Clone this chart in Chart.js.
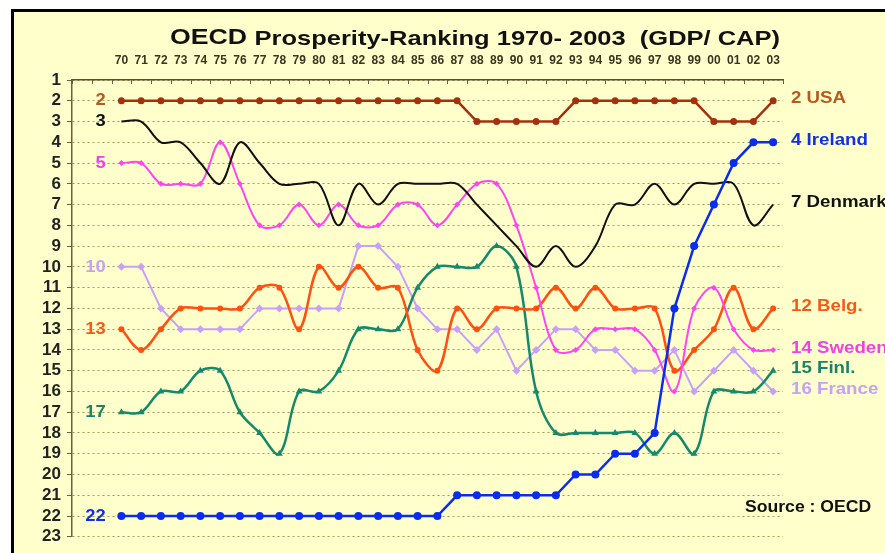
<!DOCTYPE html>
<html>
<head>
<meta charset="utf-8">
<script src="https://cdn.jsdelivr.net/npm/chart.js@4"></script>
<style>
  body { margin: 0; background: #fff; }
  canvas { display: block; }
</style>
</head>
<body>
<canvas id="rankChart" width="885" height="553"></canvas>
<script>
// OECD prosperity ranking (GDP per capita), 1970-2003
const years = ['70','71','72','73','74','75','76','77','78','79','80','81','82','83','84','85','86',
               '87','88','89','90','91','92','93','94','95','96','97','98','99','00','01','02','03'];

const usa     = [2,2,2,2,2,2,2,2,2,2,2,2,2,2,2,2,2, 2,3,3,3,3,3,2,2,2,2,2,2,2,3,3,3,2];
const denmark = [3,3,4,4,5,6,4,5,6,6,6,8,6,7,6,6,6, 6,7,8,9,10,9,10,9,7,7,6,7,6,6,6,8,7];
const ireland = [22,22,22,22,22,22,22,22,22,22,22,22,22,22,22,22,22, 21,21,21,21,21,21,20,20,19,19,18,12,9,7,5,4,4];
const belgium = [13,14,13,12,12,12,12,11,11,13,10,11,10,11,11,14,15, 12,13,12,12,12,11,12,11,12,12,12,15,14,13,11,13,12];
const sweden  = [5,5,6,6,6,4,6,8,8,7,8,7,8,8,7,7,8, 7,6,6,8,11,14,14,13,13,13,14,16,12,11,13,14,14];
const finland = [17,17,16,16,15,15,17,18,19,16,16,15,13,13,13,11,10, 10,10,9,10,16,18,18,18,18,18,19,18,19,16,16,16,15];
const france  = [10,10,12,13,13,13,13,12,12,12,12,12,9,9,10,12,13, 13,14,13,15,14,13,13,14,14,15,15,14,16,15,14,15,16];

const rankTicks = [1,2,3,4,5,6,7,8,9,10,11,12,13,14,15,16,17,18,19,20,21,22,23];

// two empty slots before 1970 hold the start labels
const labels = ['', ''].concat(years);
function pad(arr) { return [null, null].concat(arr); }

const series = [
  { name: 'Ireland', data: ireland, color: '#0a2cf0', text: '#1030e8', marker: 'circle',   radius: 4,   width: 2.5, tension: 0,    right: '4 Ireland' },
  { name: 'USA',     data: usa,     color: '#a4300e', text: '#b85a1e', marker: 'circle',   radius: 3.5, width: 2.5, tension: 0,    right: '2 USA' },
  { name: 'Denmark', data: denmark, color: '#101010', text: '#111111', marker: 'circle',   radius: 0,   width: 2,   tension: 0.35, right: '7 Denmark' },
  { name: 'Sweden',  data: sweden,  color: '#ff44f0', text: '#f040e6', marker: 'rectRot',  radius: 3,   width: 2,   tension: 0.35, right: '14 Sweden' },
  { name: 'Belgium', data: belgium, color: '#ff5010', text: '#f55a14', marker: 'circle',   radius: 3,   width: 2.5, tension: 0.35, right: '12 Belg.' },
  { name: 'Finland', data: finland, color: '#16896a', text: '#1a8466', marker: 'triangle', radius: 4,   width: 2.5, tension: 0.35, right: '15 Finl.' },
  { name: 'France',  data: france,  color: '#c9a0f8', text: '#c8a0f6', marker: 'rectRot',  radius: 4,   width: 2,   tension: 0,    right: '16 France' }
];

// frame + background
const framePlugin = {
  id: 'frame',
  beforeDraw(chart) {
    const c = chart.ctx;
    c.save();
    c.fillStyle = '#ffffff';
    c.fillRect(0, 0, chart.width, chart.height);
    c.fillStyle = '#000000';
    c.fillRect(11, 9, chart.width - 11, chart.height - 9);
    c.fillStyle = '#ffffcc';
    c.fillRect(14, 12, chart.width - 14, chart.height - 12);
    c.restore();
  }
};

// draw text stretched horizontally (the original uses a wide face)
function wideText(c, str, x, y, sx) {
  c.save();
  c.translate(x, y);
  c.scale(sx, 1);
  c.fillText(str, 0, 0);
  c.restore();
}

// title, end labels, source note, small ticks under the top axis
const textPlugin = {
  id: 'texts',
  afterDraw(chart) {
    const c = chart.ctx;
    const xs = chart.scales.x;
    const ys = chart.scales.y;
    const area = chart.chartArea;
    c.save();

    // tick marks hanging below the top axis line
    c.strokeStyle = '#6a6040';
    c.lineWidth = 1;
    for (let i = 0; i <= labels.length; i++) {
      const x = Math.round(area.left + (area.right - area.left) * i / labels.length) + 0.5;
      c.beginPath();
      c.moveTo(x, area.top);
      c.lineTo(x, area.top + 4);
      c.stroke();
    }

    c.textBaseline = 'middle';

    // title
    c.fillStyle = '#111';
    c.textAlign = 'left';
    const t1 = 'OECD ';
    const t2 = 'Prosperity-Ranking 1970- 2003  (GDP/ CAP)';
    const f1 = 'bold 22px "Liberation Sans", Arial, sans-serif';
    const f2 = 'bold 21px "Liberation Sans", Arial, sans-serif';
    c.font = f1;
    const w1 = c.measureText(t1).width;
    c.font = f2;
    const w2 = c.measureText(t2).width;
    const sx = 610 / (w1 + w2);
    const tx = 170;
    c.font = f1;
    wideText(c, t1, tx, 38, sx);
    c.font = f2;
    wideText(c, t2, tx + w1 * sx, 39, sx);

    const startX = xs.getPixelForValue(1) + 4;
    const endX = area.right + 8;
    c.font = 'bold 17px "Liberation Sans", Arial, sans-serif';
    series.forEach(s => {
      c.fillStyle = s.text;
      c.textAlign = 'right';
      wideText(c, String(s.data[0]), startX, ys.getPixelForValue(s.data[0]), 1.08);
      c.textAlign = 'left';
      const last = s.data[s.data.length - 1];
      wideText(c, s.right, endX, ys.getPixelForValue(last) - 2, 1.1);
    });

    c.fillStyle = '#111';
    c.textAlign = 'left';
    c.font = 'bold 16px "Liberation Sans", Arial, sans-serif';
    wideText(c, 'Source : OECD', 745, 508, 1.1);
    c.restore();
  }
};

const ctx = document.getElementById('rankChart').getContext('2d');

new Chart(ctx, {
  type: 'line',
  data: {
    labels: labels,
    datasets: series.map(s => ({
      label: s.name,
      data: pad(s.data),
      borderColor: s.color,
      backgroundColor: s.color,
      borderWidth: s.width,
      pointStyle: s.marker,
      pointRadius: s.radius,
      pointBorderWidth: 0,
      tension: s.tension,
      fill: false
    }))
  },
  options: {
    responsive: false,
    animation: false,
    layout: { padding: { left: 0, right: 102, top: 0, bottom: 13 } },
    plugins: {
      legend: { display: false },
      tooltip: { enabled: false },
      title: { display: false }
    },
    scales: {
      x: {
        position: 'top',
        offset: true,
        afterFit(scale) { scale.height = 80; },
        grid: {
          display: false,
          drawOnChartArea: false
        },
        border: { display: true, color: '#5a5030', width: 1.5 },
        ticks: {
          autoSkip: false,
          maxRotation: 0,
          padding: 4,
          color: '#3a3420',
          font: { family: '"Liberation Sans Narrow", "Liberation Sans", Arial', size: 12, weight: 'bold' }
        }
      },
      y: {
        reverse: true,
        min: 1,
        max: 23,
        afterFit(scale) { scale.width = 72; },
        afterBuildTicks(scale) { scale.ticks = rankTicks.map(v => ({ value: v })); },
        grid: {
          color: '#9c9a58',
          lineWidth: 1,
          tickLength: 5,
          tickColor: '#6a6040'
        },
        border: { display: true, color: '#6a6040', width: 1.5, dash: [2, 3] },
        ticks: {
          autoSkip: false,
          padding: 6,
          color: '#222',
          font: { family: '"Liberation Sans", Arial', size: 17, weight: 'bold' }
        }
      }
    }
  },
  plugins: [framePlugin, textPlugin]
});
</script>
</body>
</html>
